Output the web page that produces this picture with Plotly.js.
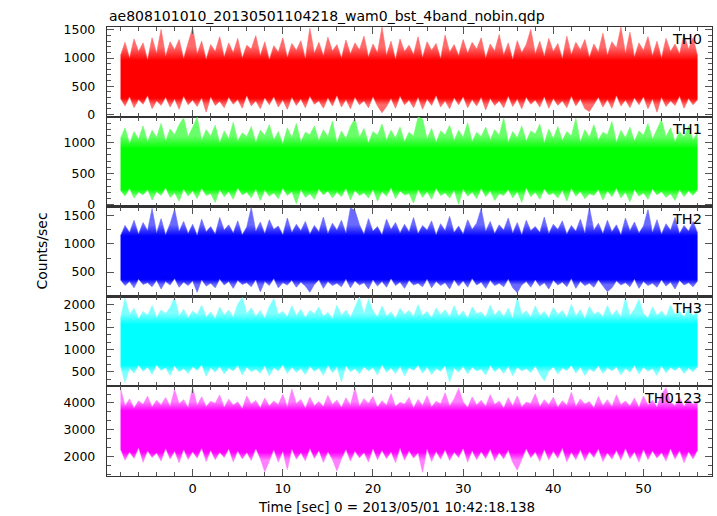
<!DOCTYPE html>
<html>
<head>
<meta charset="utf-8">
<script src="https://cdn.plot.ly/plotly-3.0.1.min.js"></script>
<style>html,body{margin:0;padding:0;background:#fff;}#chart{width:717px;height:516px;}</style>
</head>
<body>
<div id="chart"></div>
<script>
// Time grid of the envelope samples: -8 s to 56 s, every 0.5 s
const T_START = -8;
const T_STEP = 0.5;

const panelNames = ["TH0", "TH1", "TH2", "TH3", "TH0123"];

// Upper / lower envelope of each light curve (counts/sec)
const th0Hi = [1050,1280,1010,1340,1120,1270,980,1360,1090,1510,1040,1290,1150,1330,1000,1260,
1540,1080,1300,990,1240,1120,1380,1030,1270,1100,1350,1010,1230,1160,1400,1050,
1290,980,1220,1110,1360,1020,1260,1140,1310,1000,1530,1090,1280,1050,1370,1130,
1240,1010,1320,1080,1270,1150,1390,1030,1250,1100,1550,1060,1300,990,1340,1120,
1230,1070,1380,1020,1290,1140,1260,1000,1410,1110,1240,1050,1330,1090,1280,1160,
1360,1010,1250,1130,1420,1060,1270,990,1310,1100,1240,1510,1080,1300,1040,1350,
1120,1260,1000,1390,1070,1280,1150,1330,1020,1250,1110,1440,1060,1290,1180,1550,
1090,1460,1030,1270,1140,1380,1050,1300,1010,1350,1120,1250,1080,1420,1160,1360,1040];
const th0Lo = [280,150,310,120,260,180,330,100,240,160,300,130,270,90,320,170,
250,140,290,40,310,160,230,120,300,180,260,110,330,150,240,100,
290,170,310,130,250,90,300,160,270,120,320,180,240,110,290,150,
330,130,260,100,300,170,240,120,310,150,30,140,280,110,320,170,
250,120,300,90,270,160,330,130,240,100,290,170,310,120,260,150,
300,80,280,160,240,120,320,140,270,100,300,180,250,130,310,110,
280,160,240,120,320,150,270,100,50,170,300,130,260,110,330,150,
250,120,290,170,310,100,270,40,300,140,240,160,320,110,280,170,260];

const th1Hi = [1060,1230,980,1170,1050,1260,1010,1190,1080,1300,1020,1210,1120,1280,1390,1090,
1240,1400,1030,1200,1100,1270,990,1180,1060,1320,1020,1150,1090,1250,1000,1190,
1110,1280,1040,1170,980,1230,1070,1300,1010,1160,1120,1260,1030,1200,1090,1340,
1000,1180,1060,1250,1380,1080,1220,990,1170,1110,1290,1040,1190,1070,1240,1010,
1160,1100,1400,1370,1050,1220,1000,1180,1120,1270,1030,1190,1080,1310,1010,1160,
1090,1240,1040,1200,1110,1390,1000,1170,1070,1260,1020,1180,1130,1290,990,1210,
1060,1250,1030,1170,1100,1380,1010,1200,1080,1280,1040,1160,1120,1330,1000,1190,
1070,1240,1020,1180,1110,1300,1050,1210,1360,1090,1230,1010,1170,1080,1260,1040,1150];
const th1Lo = [230,140,260,110,200,160,240,80,210,150,270,120,190,60,250,140,
220,100,260,150,180,40,240,130,210,90,270,160,200,110,250,70,
230,140,190,100,260,150,210,20,240,120,180,90,250,160,220,110,
200,130,260,80,230,150,190,110,240,60,210,140,270,100,220,160,
180,30,240,120,210,90,260,150,190,110,230,10,250,140,200,100,
260,130,220,70,180,150,240,110,210,40,270,130,200,90,250,160,
190,110,230,60,260,140,210,100,180,150,240,80,220,130,260,110,
200,50,240,140,190,90,250,160,210,120,180,70,240,130,220,150,240];

const th2Hi = [1150,1330,1210,1420,1180,1380,1240,1630,1200,1450,1170,1360,1620,1230,1400,1190,
1350,1160,1440,1220,1310,1180,1470,1250,1340,1200,1410,1170,1300,1650,1230,1390,
1190,1430,1260,1320,1170,1460,1210,1350,1240,1400,1180,1330,1220,1480,1190,1370,
1250,1420,1200,1640,1600,1340,1180,1450,1230,1310,1170,1440,1260,1380,1200,1350,
1220,1470,1190,1330,1250,1410,1170,1360,1240,1490,1210,1320,1180,1430,1260,1370,
1630,1230,1400,1190,1340,1250,1460,1200,1380,1170,1420,1240,1310,1210,1480,1190,
1350,1260,1410,1180,1330,1230,1440,1200,1650,1250,1370,1190,1420,1220,1340,1170,
1460,1240,1390,1200,1320,1610,1210,1430,1180,1360,1250,1470,1190,1330,1230,1400,1200];
const th2Lo = [360,260,330,220,370,280,310,240,350,200,330,270,380,230,320,260,
340,140,360,250,300,220,370,270,330,210,350,280,310,240,360,150,
330,260,380,220,310,270,350,230,320,250,140,280,360,210,330,260,
300,240,370,220,340,270,310,200,360,250,330,230,380,260,320,210,
350,270,300,240,370,220,330,260,310,200,360,250,340,230,380,270,
320,210,350,260,300,240,370,220,130,270,330,230,360,250,310,200,
350,270,320,240,380,210,330,260,300,230,360,250,150,220,340,270,
310,240,370,210,330,260,300,230,360,250,320,200,350,270,310,240,340];

const th3Hi = [1700,2150,1780,1920,1690,1850,1760,1980,1720,1880,1800,1940,2170,1750,1900,1710,
1860,1780,1990,1730,1840,1690,1950,1770,1880,1720,2010,2160,1800,1930,1740,1870,
1700,1960,2140,1790,1850,1730,1980,1760,1900,1710,1870,1800,1950,1740,1830,1690,
1990,1760,1880,1720,1940,2170,1780,2130,1860,1730,1970,1750,1840,1700,1920,1790,
1870,1740,2000,1760,1850,1710,1930,1780,1890,1730,1980,1750,1860,1700,1950,1800,
1840,1720,1990,1770,1880,1740,1920,1700,2160,1790,1860,1730,1970,1760,1850,1710,
1940,1780,1870,1720,2010,1750,1890,1700,1960,1790,1840,1740,1980,1760,1880,1730,
2150,1770,1900,2120,1800,1710,1950,1760,1860,1730,1990,1780,1850,1720,1930,1750,1880];
const th3Lo = [620,260,580,470,640,510,600,440,650,530,590,420,630,500,570,460,
610,530,650,400,590,490,620,450,580,520,640,430,600,500,560,470,
630,410,590,520,650,460,600,490,570,440,620,510,580,420,640,480,
600,280,630,500,570,450,610,520,590,430,650,490,580,460,620,410,
590,530,640,470,600,440,570,510,630,270,580,490,620,450,600,520,
560,430,640,500,590,460,620,410,600,520,570,480,630,440,300,510,
610,450,580,530,640,470,600,420,570,500,630,460,590,520,610,430,
580,490,640,450,600,510,570,420,630,480,590,530,610,460,580,500,620];

const th0123Hi = [4550,3900,4150,3820,4080,3950,4250,3860,4100,3930,4200,3880,4500,3970,4120,3840,
4580,3910,4230,3870,4060,3990,4300,3850,4140,3920,4040,3800,4260,3960,4090,3830,
4180,3890,4070,3940,4320,3860,4520,3980,4130,3820,4210,3900,4050,3870,4280,3950,
4110,3840,4190,3930,4560,3880,4160,3990,4240,3850,4080,3920,4350,3870,4020,3960,
4200,3830,4130,3910,4270,3860,4060,3970,4380,3890,4150,4540,4040,3840,4220,3930,
4100,3880,4310,3950,4070,3820,4190,3900,4260,3860,4030,3980,4340,3870,4120,3940,
4210,3850,4080,3920,4400,3880,4150,3960,4050,3830,4240,3910,4120,3870,4300,3940,
4070,3890,4180,3850,4260,3930,4100,3860,4330,4570,4020,3900,4200,3870,4140,3950,4060];
const th0123Lo = [2250,1850,2150,1920,2300,1780,2200,1950,2120,1820,2280,1900,2180,1760,2240,1880,
2160,1930,2290,1800,2210,1870,2140,1950,2260,1790,2190,1900,2130,1840,2270,1910,
1420,1860,2230,1780,2170,1500,2250,1890,2120,1830,2280,1920,2200,1770,2160,1880,
1450,1900,2240,1820,2180,1940,2130,1790,2270,1870,2210,1910,2150,1760,2290,1850,
2190,1930,2120,1400,2260,1800,2170,1890,2230,1840,2140,1950,2280,1780,2200,1870,
2160,1910,2250,1830,2130,1900,2220,1770,1480,1880,2270,1940,2150,1810,2240,1860,
2180,1920,2290,1790,2140,1870,2230,1830,2170,1950,2260,1800,2120,1890,2210,1850,
2280,1910,2150,1780,2240,1870,2190,1930,2130,1820,2270,1890,2200,1760,2160,1900,2230];

// y tick labels per panel
const yTicks = [[0,500,1000,1500],[0,500,1000],[500,1000,1500],[500,1000,1500,2000],[2000,3000,4000]];
const xTicks = [0,10,20,30,40,50];

const hiSeries = [th0Hi, th1Hi, th2Hi, th3Hi, th0123Hi];
const loSeries = [th0Lo, th1Lo, th2Lo, th3Lo, th0123Lo];

// ---- styling (not data) ----
const colors = ["#ff0000", "#00ff00", "#0000ff", "#00ffff", "#ff00ff"];
const tints  = ["#ff6a6a", "#6aff6a", "#6a6aff", "#80ffff", "#ff80ff"];
const yRanges = [[-43,1553],[-27,1406],[67,1665],[178,2187],[1261,4626]];
// vertical span of the fill gradient and the solid core inside it (style)
const gradSpan = [[0,1550],[0,1400],[130,1650],[260,2170],[1400,4580]];
const coreSpan = [[290,960],[250,900],[370,1140],[650,1560],[2150,3700]];
const yMinor = [100,100,250,500/3,1000/3];
const FONT = "DejaVu Sans";

const times = th0Hi.map((_, i) => T_START + i * T_STEP);

const traces = [];
const layout = {
  width: 717, height: 516,
  margin: {l: 107, r: 5, t: 27, b: 40},
  paper_bgcolor: "#fff", plot_bgcolor: "#fff",
  showlegend: false,
  font: {family: FONT, size: 13, color: "#000"},
  annotations: []
};

const N = panelNames.length;
for (let k = 0; k < N; k++) {
  const n = k + 1;
  const xa = n === 1 ? "x" : "x" + n;
  const ya = n === 1 ? "y" : "y" + n;
  const g0 = gradSpan[k][0], g1 = gradSpan[k][1];
  const p = v => Math.min(1, Math.max(0, (v - g0) / (g1 - g0)));
  const cLo = p(coreSpan[k][0]), cHi = p(coreSpan[k][1]);
  traces.push({x: times, y: loSeries[k], xaxis: xa, yaxis: ya, type: "scatter", mode: "lines",
    line: {color: tints[k], width: 0.6}, hoverinfo: "skip"});
  traces.push({x: times, y: hiSeries[k], xaxis: xa, yaxis: ya, type: "scatter", mode: "lines",
    fill: "tonexty", fillcolor: colors[k],
    fillgradient: {type: "vertical", start: g0, stop: g1,
      colorscale: [[0, tints[k]], [cLo * 0.6, tints[k]], [cLo, colors[k]], [cHi, colors[k]],
                   [cHi + (1 - cHi) * 0.4, tints[k]], [1, tints[k]]]},
    line: {color: tints[k], width: 0.6}, hoverinfo: "skip"});

  const top = 1 - k / N, bot = 1 - (k + 1) / N;
  const isBottom = k === N - 1;
  layout["xaxis" + (n === 1 ? "" : n)] = {
    anchor: ya, domain: [0, 1], range: [-9.5, 57.6],
    tickmode: "array", tickvals: xTicks,
    showticklabels: isBottom, ticks: "inside", ticklen: 7, tickwidth: 1, tickcolor: "#555",
    minor: {ticks: "inside", dtick: 2, ticklen: 4, tickwidth: 1, tickcolor: "#555"},
    showline: true, linecolor: "#333", linewidth: 1.2, mirror: "ticks",
    showgrid: false, zeroline: false, ticklabelstandoff: 0,
    tickfont: {family: FONT, size: 13, color: "#000"}
  };
  if (n !== 1) layout["xaxis" + n].matches = "x";
  layout["yaxis" + (n === 1 ? "" : n)] = {
    anchor: xa, domain: [bot, top], range: yRanges[k],
    tickmode: "array", tickvals: yTicks[k],
    ticks: "inside", ticklen: 7, tickwidth: 1, tickcolor: "#555",
    minor: {ticks: "inside", dtick: yMinor[k], tick0: 0, ticklen: 4, tickwidth: 1, tickcolor: "#555"},
    showline: true, linecolor: "#333", linewidth: 1.2, mirror: "ticks",
    showgrid: false, zeroline: false, ticklabelstandoff: 8,
    tickfont: {family: FONT, size: 12.5, color: "#000"}
  };
  layout.annotations.push({text: panelNames[k], xref: "paper", yref: "paper", x: 1, y: top,
    xanchor: "right", yanchor: "top", xshift: -8, yshift: -2, showarrow: false,
    font: {family: FONT, size: 14.5, color: "#000"}});
}

layout.annotations.push({text: "ae808101010_20130501104218_wam0_bst_4band_nobin.qdp",
  xref: "paper", yref: "paper", x: 0, y: 1, xanchor: "left", yanchor: "bottom", yshift: 1,
  showarrow: false, font: {family: FONT, size: 14, color: "#000"}});
layout.annotations.push({text: "Counts/sec", xref: "paper", yref: "paper", x: -0.109, y: 0.5,
  xanchor: "center", yanchor: "middle", textangle: -90, showarrow: false,
  font: {family: FONT, size: 14, color: "#000"}});
layout.annotations.push({text: "Time [sec] 0 = 2013/05/01 10:42:18.138", xref: "paper", yref: "paper",
  x: 0.4785, y: 0, xanchor: "center", yanchor: "middle", yshift: -31, showarrow: false,
  font: {family: FONT, size: 13.5, color: "#000"}});

Plotly.newPlot("chart", traces, layout, {staticPlot: true, displayModeBar: false});
</script>
</body>
</html>
